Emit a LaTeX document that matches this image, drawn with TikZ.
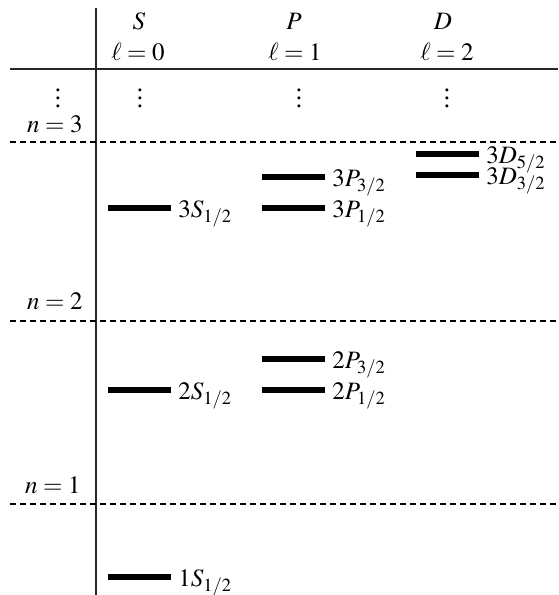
\documentclass[tikz,border=0pt]{standalone}
\usepackage{mathptmx}
\usepackage[no-math]{fontspec}
\setmainfont{Liberation Serif}
\begin{document}
\begin{tikzpicture}[x=0.5pt,y=-0.5pt,
  font=\fontsize{12.5}{15}\selectfont,
  rule/.style={line width=0.9pt,draw=black!85},
  sep/.style={line width=0.6pt,dash pattern=on 3pt off 2pt},
  level/.style={line width=2.6pt},
  lab/.style={anchor=base west,inner sep=0pt},
  hdr/.style={anchor=base,inner sep=0pt},
  dotsn/.style={inner sep=0pt},
  nlab/.style={anchor=base east,inner sep=0pt}]
\useasboundingbox (0,0) rectangle (558,595);
% frame lines
\coordinate (vt) at (96,8);
\coordinate (vb) at (96,595);
\coordinate (hl) at (10,69);
\coordinate (hr) at (558,69);
\draw[rule] (vt) -- (vb);
\draw[rule] (hl) -- (hr);
\foreach \y/\nm in {142/a,321/b,504/c}{
  \coordinate (dl\nm) at (10,\y);
  \coordinate (dr\nm) at (558,\y);
  \draw[sep] (dl\nm) -- (dr\nm);
}
% headers
\node[hdr] (hS) at (139,29) {$S$};
\node[hdr] (hP) at (294,29) {$P$};
\node[hdr] (hD) at (443,29) {$D$};
\node[hdr] (lS) at (138,60) {$\ell=0$};
\node[hdr] (lP) at (295,60) {$\ell=1$};
\node[hdr] (lD) at (447,60) {$\ell=2$};
% dots
\node[dotsn] (d0) at (58,92) {$\vdots$};
\node[dotsn] (d1) at (140,92) {$\vdots$};
\node[dotsn] (d2) at (299,92) {$\vdots$};
\node[dotsn] (d3) at (447,92) {$\vdots$};
% n labels
\node[nlab] (n3) at (83,132) {$n=3$};
\node[nlab] (n2) at (83,309) {$n=2$};
\node[nlab] (n1) at (81,493) {$n=1$};
% levels
\foreach \x/\y/\t/\nm in {
  108/208/3S_{1/2}/s3, 108/390/2S_{1/2}/s2, 108/577/1S_{1/2}/s1,
  262/177/3P_{3/2}/p3b, 262/208/3P_{1/2}/p3a,
  262/359/2P_{3/2}/p2b, 262/390/2P_{1/2}/p2a,
  416/154/3D_{5/2}/d3b, 416/175/3D_{3/2}/d3a}{
  \coordinate (\nm L) at (\x,\y);
  \coordinate (\nm R) at (\x+63,\y);
  \draw[level] (\nm L) -- (\nm R);
  \node[lab] (\nm) at (\x+70,\y+9) {$\t$};
}
\end{tikzpicture}
\end{document}
